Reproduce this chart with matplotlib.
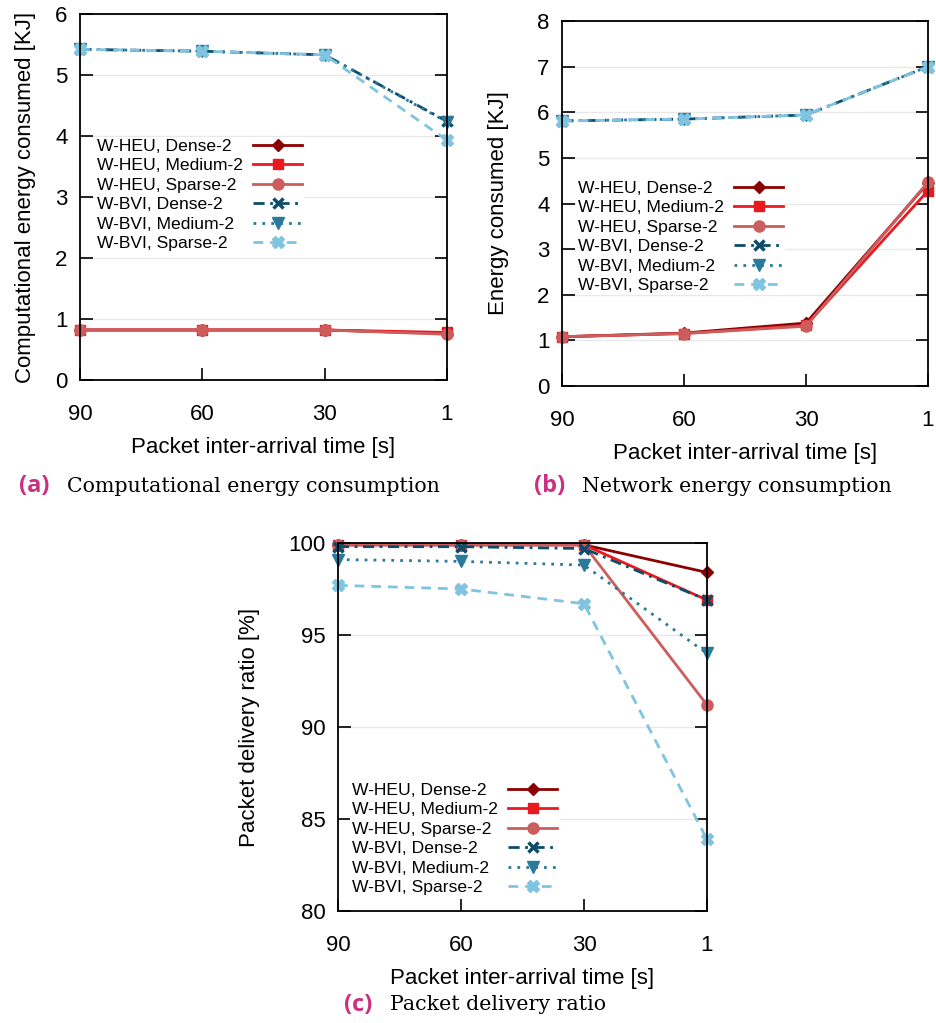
import matplotlib
matplotlib.use("Agg")
import matplotlib.pyplot as plt

plt.rcParams['font.family'] = ['Liberation Sans', 'DejaVu Sans']

W, H = 937, 1023
DPI = 100

# ---------------- data ----------------
x_labels = ['90', '60', '30', '1']
series_names = ['W-HEU, Dense-2', 'W-HEU, Medium-2', 'W-HEU, Sparse-2',
                'W-BVI, Dense-2', 'W-BVI, Medium-2', 'W-BVI, Sparse-2']

comp_heu_dense = [0.82, 0.82, 0.82, 0.76]
comp_heu_medium = [0.82, 0.82, 0.82, 0.78]
comp_heu_sparse = [0.82, 0.82, 0.82, 0.75]
comp_bvi_dense = [5.42, 5.39, 5.33, 4.24]
comp_bvi_medium = [5.42, 5.39, 5.33, 4.23]
comp_bvi_sparse = [5.42, 5.39, 5.33, 3.93]

net_heu_dense = [1.08, 1.16, 1.38, 4.45]
net_heu_medium = [1.08, 1.15, 1.33, 4.28]
net_heu_sparse = [1.08, 1.15, 1.31, 4.47]
net_bvi_dense = [5.81, 5.85, 5.94, 7.00]
net_bvi_medium = [5.81, 5.85, 5.94, 7.00]
net_bvi_sparse = [5.81, 5.85, 5.94, 7.00]

pdr_heu_dense = [99.9, 99.9, 99.9, 98.4]
pdr_heu_medium = [99.9, 99.9, 99.9, 96.9]
pdr_heu_sparse = [99.9, 99.9, 99.9, 91.2]
pdr_bvi_dense = [99.8, 99.8, 99.7, 96.9]
pdr_bvi_medium = [99.1, 99.0, 98.8, 94.0]
pdr_bvi_sparse = [97.7, 97.5, 96.7, 83.9]

# ---------------- styles ----------------
styles = [
    dict(color='#8b0000', ls='-', marker='D', ms=6, lw=2.0),
    dict(color='#e8191f', ls='-', marker='s', ms=7.5, lw=2.0),
    dict(color='#cd5c5c', ls='-', marker='o', ms=8, lw=2.0),
    dict(color='#0e4c6b', ls=(0, (4, 2, 1, 2)), marker='x', ms=7, lw=2.0, mew=2.5),
    dict(color='#2b7a9b', ls=(0, (1, 2.2)), marker='v', ms=8, lw=2.0),
    dict(color='#7fc4e0', ls=(0, (3.5, 2.5)), marker='X', ms=9, lw=2.0),
]

fig = plt.figure(figsize=(W / DPI, H / DPI), dpi=DPI)


def px_axes(left, top, right, bottom):
    return fig.add_axes([left / W, 1 - bottom / H, (right - left) / W, (bottom - top) / H])


legends = []


def setup(ax, data, ylim, yticks, ylabel, legend_xy, ylabelpad):
    xs = list(range(len(x_labels)))
    for name, vals, st in zip(series_names, data, styles):
        kw = dict(color=st['color'], linestyle=st['ls'], marker=st['marker'],
                  markersize=st['ms'], linewidth=st['lw'], label=name,
                  markeredgecolor=st['color'], markerfacecolor=st['color'], clip_on=False)
        if 'mew' in st:
            kw['markeredgewidth'] = st['mew']
        ax.plot(xs, vals, **kw)
    ax.set_xlim(0, len(x_labels) - 1)
    ax.set_ylim(*ylim)
    ax.set_xticks(xs)
    ax.set_xticklabels(x_labels)
    ax.set_yticks(yticks)
    ax.set_yticklabels([str(t) for t in yticks])
    ax.grid(axis='y', color='#e8e8e8', linewidth=1.0, zorder=0)
    ax.set_axisbelow(True)
    ax.tick_params(axis='both', direction='in', length=9, width=1.2, labelsize=16,
                   colors='black')
    ax.tick_params(axis='y', right=True, pad=9)
    ax.tick_params(axis='x', pad=17)
    for sp in ax.spines.values():
        sp.set_linewidth(1.3)
    ax.set_xlabel('Packet inter-arrival time [s]', fontsize=16, labelpad=9)
    ax.set_ylabel(ylabel, fontsize=16, labelpad=ylabelpad)
    lx, ly = legend_xy
    leg = ax.legend(loc='upper left', bbox_to_anchor=(lx / W, 1 - ly / H),
                    bbox_transform=fig.transFigure, markerfirst=False,
                    fontsize=12.6, frameon=True, framealpha=1, edgecolor='none',
                    facecolor='white', fancybox=False, borderpad=0.1,
                    handlelength=2.8, handletextpad=0.6, labelspacing=0.24,
                    borderaxespad=0)
    leg.set_zorder(5)
    legends.append(leg)
    return ax


ax_a = px_axes(80, 14, 447, 380)
setup(ax_a, [comp_heu_dense, comp_heu_medium, comp_heu_sparse,
             comp_bvi_dense, comp_bvi_medium, comp_bvi_sparse],
      (0, 6), [0, 1, 2, 3, 4, 5, 6], 'Computational energy consumed [KJ]', (95, 137), 14)

ax_b = px_axes(562, 21, 928, 386)
setup(ax_b, [net_heu_dense, net_heu_medium, net_heu_sparse,
             net_bvi_dense, net_bvi_medium, net_bvi_sparse],
      (0, 8), [0, 1, 2, 3, 4, 5, 6, 7, 8], 'Energy consumed [KJ]', (576, 179), 20)

ax_c = px_axes(338, 543, 707, 911)
setup(ax_c, [pdr_heu_dense, pdr_heu_medium, pdr_heu_sparse,
             pdr_bvi_dense, pdr_bvi_medium, pdr_bvi_sparse],
      (80, 100), [80, 85, 90, 95, 100], 'Packet delivery ratio [%]', (350, 781), 20)

# left-align legend labels while keeping the line samples in one column
fig.canvas.draw()
renderer = fig.canvas.get_renderer()
for leg in legends:
    texts = leg.get_texts()
    widths = [t.get_window_extent(renderer).width for t in texts]
    wmax = max(widths)
    column = leg._legend_handle_box.get_children()[0]
    for row, w in zip(column.get_children(), widths):
        row.sep = row.sep + (wmax - w) * 72.0 / DPI

# ---------------- captions ----------------
cap_color = '#cc2f7f'


def caption(tag, text, x_tag, x_text, y):
    fig.text(x_tag / W, 1 - y / H, tag, color=cap_color, fontsize=17, fontweight='bold',
             family=['Open Sans', 'DejaVu Sans'], va='center', ha='left')
    fig.text(x_text / W, 1 - y / H, text, fontsize=14.8, family=['DejaVu Serif'],
             va='center', ha='left')


caption('(a)', 'Computational energy consumption', 19, 67, 486)
caption('(b)', 'Network energy consumption', 534, 582, 486)
caption('(c)', 'Packet delivery ratio', 344, 390, 1005)

fig.savefig('out.png', dpi=DPI)
